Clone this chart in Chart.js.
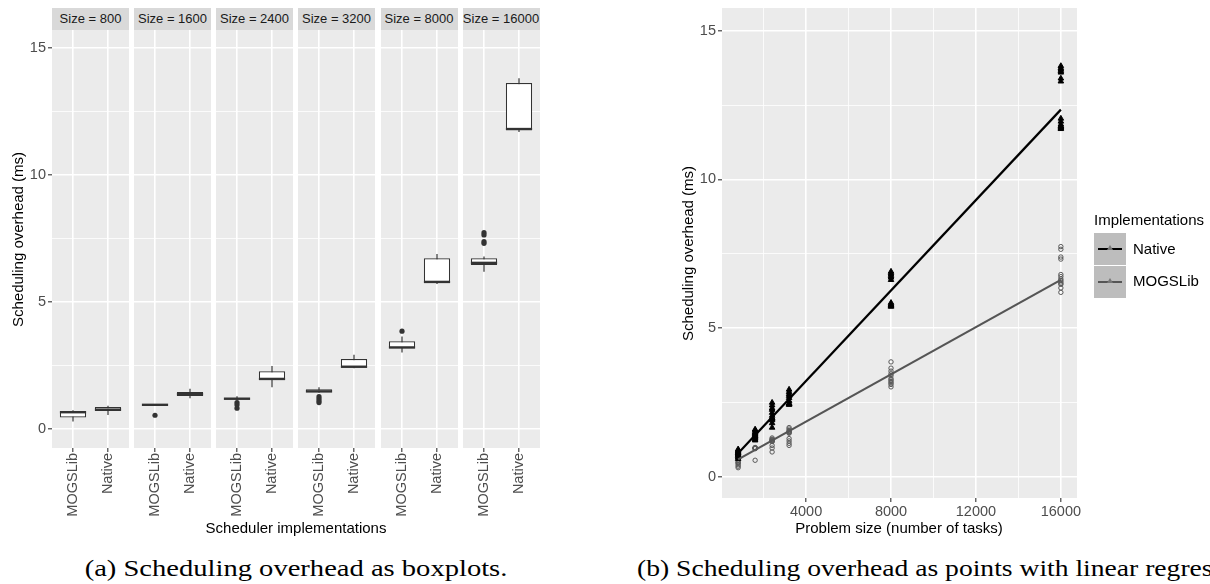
<!DOCTYPE html>
<html>
<head>
<meta charset="utf-8">
<title>Scheduling overhead</title>
<script src="https://cdn.jsdelivr.net/npm/chart.js@4.4.1/dist/chart.umd.min.js"></script>
<style>
  body { margin: 0; width: 1210px; height: 584px; overflow: hidden; background: #fff; position: relative;
         font-family: "Liberation Sans", Arial, sans-serif; }
  canvas { position: absolute; }
  .abs { position: absolute; white-space: nowrap; }
  .strip { position: absolute; top: 8px; height: 22px; line-height: 22px; background: #D9D9D9;
           color: #1A1A1A; font-size: 13px; text-align: center; }
  .title { font-size: 15px; color: #000; }
  .ytitle { position: absolute; display: flex; align-items: center; justify-content: center;
            writing-mode: vertical-rl; transform: rotate(180deg); font-size: 15px; color: #000; white-space: nowrap; }
  .caption { font-family: "Liberation Serif", "Times New Roman", serif; font-size: 24px; color: #000; }
  .key { position: absolute; width: 32px; height: 32px; background: #BDBDBD; }
  .key span { position: absolute; left: 4px; top: 15px; width: 24px; height: 2px; }
  .key i { position: absolute; left: 13px; top: 12px; width: 0; height: 0;
           border-left: 3px solid transparent; border-right: 3px solid transparent; border-bottom: 5px solid #777; }
</style>
</head>
<body>

<div id="left"></div>
<div class="ytitle" style="left:8px; top:30px; width:20px; height:418px;">Scheduling overhead (ms)</div>
<div class="abs title" style="left:296px; top:519px; transform:translateX(-50%);">Scheduler implementations</div>

<canvas id="scatterChart" width="417" height="530" style="left:690px; top:0px;"></canvas>
<div class="ytitle" style="left:678px; top:8px; width:20px; height:490px;">Scheduling overhead (ms)</div>
<div class="abs title" style="left:899px; top:519px; transform:translateX(-50%);">Problem size (number of tasks)</div>

<div class="abs title" style="left:1094px; top:211px;">Implementations</div>
<div class="key" style="left:1094px; top:233px;"><span style="background:#000"></span><i></i></div>
<div class="key" style="left:1094px; top:266px;"><span style="background:#555"></span><i></i></div>
<div class="abs title" style="left:1133px; top:240px;">Native</div>
<div class="abs title" style="left:1133px; top:272px;">MOGSLib</div>

<div class="abs caption" style="left:296px; top:555px; transform:translateX(-50%) scaleX(1.19);">(a) Scheduling overhead as boxplots.</div>
<div class="abs caption" style="left:637px; top:555px; transform-origin:0 0; transform:scaleX(1.15);">(b) Scheduling overhead as points with linear regression.</div>

<script>
  // problem sizes (one facet per size)
  const sizes = [800, 1600, 2400, 3200, 8000, 16000]
  const implLabels = ['MOGSLib', 'Native']

  // boxplot stats, panel (a)
  const mogsLow = [0.30, 0.94, 1.14, 1.44, 3.02, 6.20]
  const mogsQ1 = [0.46, 0.95, 1.18, 1.46, 3.19, 6.47]
  const mogsMed = [0.67, 0.96, 1.20, 1.49, 3.22, 6.55]
  const mogsQ3 = [0.70, 0.97, 1.24, 1.57, 3.46, 6.73]
  const mogsHigh = [0.75, 0.98, 1.30, 1.65, 3.65, 6.80]
  const mogsOutliers = [[], [0.55], [1.05, 0.96, 0.83], [1.28, 1.20, 1.12, 1.05], [3.86], [7.74, 7.65, 7.39, 7.32]]

  const nativeLow = [0.56, 1.22, 1.65, 2.40, 5.72, 11.70]
  const nativeQ1 = [0.72, 1.31, 1.94, 2.43, 5.77, 11.78]
  const nativeMed = [0.77, 1.38, 1.98, 2.46, 5.80, 11.82]
  const nativeQ3 = [0.87, 1.47, 2.28, 2.76, 6.73, 13.63]
  const nativeHigh = [0.92, 1.59, 2.49, 2.93, 6.90, 13.82]
  const nativeOutliers = [[], [], [], [], [], []]

  // raw points, panel (b)
  const nativePoints = [
    [0.92, 0.88, 0.85, 0.82, 0.80, 0.78, 0.75, 0.72, 0.70, 0.65, 0.60],
    [1.59, 1.55, 1.50, 1.47, 1.44, 1.41, 1.38, 1.36, 1.33, 1.30, 1.25, 1.22],
    [2.49, 2.40, 2.30, 2.25, 2.15, 2.05, 1.98, 1.96, 1.94, 1.90, 1.80, 1.65],
    [2.93, 2.85, 2.78, 2.72, 2.65, 2.55, 2.47, 2.45, 2.44, 2.43, 2.42],
    [6.90, 6.85, 6.80, 6.75, 6.70, 6.62, 5.85, 5.80, 5.78, 5.76, 5.74, 5.72],
    [13.82, 13.75, 13.70, 13.65, 13.60, 13.40, 13.30, 12.05, 11.95, 11.85, 11.80, 11.78, 11.75, 11.72, 11.70]
  ]
  const mogsPoints = [
    [0.75, 0.70, 0.68, 0.62, 0.55, 0.50, 0.47, 0.45, 0.40, 0.35, 0.30],
    [0.98, 0.97, 0.96, 0.96, 0.95, 0.95, 0.94, 0.55],
    [1.30, 1.26, 1.24, 1.22, 1.20, 1.19, 1.18, 1.05, 0.96, 0.83],
    [1.65, 1.60, 1.55, 1.52, 1.50, 1.48, 1.46, 1.28, 1.20, 1.12, 1.05],
    [3.86, 3.65, 3.55, 3.46, 3.40, 3.30, 3.25, 3.20, 3.15, 3.10, 3.02],
    [7.74, 7.65, 7.39, 7.32, 6.80, 6.73, 6.65, 6.60, 6.55, 6.50, 6.47, 6.35, 6.20]
  ]
  // regression line ends at size 800 and 16000
  const fitSizes = [800, 16000]
  const nativeFit = [0.79, 12.35]
  const mogsFit = [0.58, 6.62]

  // ticks
  const yMajor = [0, 5, 10, 15]
  const yMinor = [2.5, 7.5, 12.5]
  const xMajor = [4000, 8000, 12000, 16000]
  const xMinor = [2000, 6000, 10000, 14000]

  const tickFont = { family: 'Liberation Sans', size: 14.5 }
  const tickColor = '#4D4D4D'

  const panelBg = {
    id: 'panelBg',
    beforeDraw(chart) {
      const a = chart.chartArea
      chart.ctx.save()
      chart.ctx.fillStyle = '#EBEBEB'
      chart.ctx.fillRect(a.left, a.top, a.right - a.left, a.bottom - a.top)
      chart.ctx.restore()
    }
  }

  function noPad(axis) {
    axis.paddingLeft = 0
    axis.paddingRight = 0
    axis.paddingTop = 0
    axis.paddingBottom = 0
  }

  function yScale(min, max, showAxis, axisWidth) {
    const all = yMajor.concat(yMinor).sort((a, b) => a - b)
    return {
      type: 'linear',
      min: min,
      max: max,
      afterBuildTicks: (axis) => { axis.ticks = all.map(v => ({ value: v })) },
      afterFit: (axis) => { axis.width = showAxis ? axisWidth : 0; noPad(axis) },
      border: { display: false },
      grid: {
        color: '#FFFFFF',
        lineWidth: (c) => yMajor.includes(c.tick.value) ? 1.6 : 0.8,
        drawTicks: showAxis,
        tickLength: 4,
        tickWidth: 1.1,
        tickColor: (c) => yMajor.includes(c.tick.value) ? '#333333' : 'rgba(0,0,0,0)'
      },
      ticks: {
        display: showAxis,
        autoSkip: false,
        padding: 2,
        color: tickColor,
        font: tickFont,
        callback: (v) => yMajor.includes(v) ? String(v) : ''
      }
    }
  }

  // facets of panel (a)
  const facetLefts = [52, 134, 216, 298, 380.5, 462.5]
  const facetWidth = 77
  const leftDiv = document.getElementById('left')

  for (let i = 0; i < sizes.length; i++) {
    const strip = document.createElement('div')
    strip.className = 'strip'
    strip.style.left = facetLefts[i] + 'px'
    strip.style.width = facetWidth + 'px'
    strip.textContent = 'Size = ' + sizes[i]
    leftDiv.appendChild(strip)

    const first = i === 0
    const cv = document.createElement('canvas')
    const left = first ? 0 : facetLefts[i]
    cv.width = first ? facetLefts[0] + facetWidth : facetWidth
    cv.height = 498
    cv.style.left = left + 'px'
    cv.style.top = '30px'
    leftDiv.appendChild(cv)

    const outPts = []
    mogsOutliers[i].forEach(v => outPts.push({ x: 0, y: v }))
    nativeOutliers[i].forEach(v => outPts.push({ x: 1, y: v }))

    new Chart(cv, {
      type: 'bar',
      data: {
        datasets: [
          {
            label: 'whisker',
            data: [{ x: 0, y: [mogsLow[i], mogsHigh[i]] }, { x: 1, y: [nativeLow[i], nativeHigh[i]] }],
            backgroundColor: '#333333',
            maxBarThickness: 1.2,
            grouped: false,
            order: 3
          },
          {
            label: 'box',
            data: [{ x: 0, y: [mogsQ1[i], mogsQ3[i]] }, { x: 1, y: [nativeQ1[i], nativeQ3[i]] }],
            backgroundColor: '#FFFFFF',
            borderColor: '#333333',
            borderWidth: 1.2,
            borderSkipped: false,
            barPercentage: 0.75,
            categoryPercentage: 1,
            grouped: false,
            order: 2
          },
          {
            type: 'line',
            label: 'median',
            data: [{ x: 0, y: mogsMed[i] }, { x: 1, y: nativeMed[i] }],
            showLine: false,
            pointStyle: 'line',
            pointRadius: 13.1,
            pointBorderWidth: 2.4,
            borderColor: '#333333',
            order: 1
          },
          {
            type: 'line',
            label: 'outlier',
            data: outPts,
            showLine: false,
            pointRadius: 2.6,
            pointBackgroundColor: '#333333',
            pointBorderWidth: 0,
            order: 0
          }
        ]
      },
      options: {
        responsive: false,
        animation: false,
        layout: { padding: 0, autoPadding: false },
        plugins: { legend: { display: false }, tooltip: { enabled: false } },
        scales: {
          x: {
            type: 'linear',
            min: -0.6,
            max: 1.6,
            offset: false,
            afterBuildTicks: (axis) => { axis.ticks = [{ value: 0 }, { value: 1 }] },
            afterFit: (axis) => { axis.height = 80; noPad(axis) },
            border: { display: false },
            grid: { offset: false, color: '#FFFFFF', lineWidth: 1.6, tickLength: 4, tickWidth: 1.1, tickColor: '#333333' },
            ticks: {
              autoSkip: false,
              minRotation: 90,
              maxRotation: 90,
              padding: 1,
              color: tickColor,
              font: tickFont,
              callback: (v) => implLabels[v]
            }
          },
          y: yScale(-0.74, 15.72, first, 52)
        }
      },
      plugins: [panelBg]
    })
  }

  // panel (b)
  const nativeData = []
  const mogsData = []
  for (let i = 0; i < sizes.length; i++) {
    nativePoints[i].forEach(v => nativeData.push({ x: sizes[i], y: v }))
    mogsPoints[i].forEach(v => mogsData.push({ x: sizes[i], y: v }))
  }
  const xAll = xMajor.concat(xMinor).sort((a, b) => a - b)

  new Chart(document.getElementById('scatterChart'), {
    type: 'scatter',
    data: {
      datasets: [
        {
          type: 'line',
          label: 'Native fit',
          data: fitSizes.map((s, k) => ({ x: s, y: nativeFit[k] })),
          borderColor: '#000000',
          borderWidth: 2.2,
          pointRadius: 0,
          showLine: true,
          order: 0
        },
        {
          type: 'line',
          label: 'MOGSLib fit',
          data: fitSizes.map((s, k) => ({ x: s, y: mogsFit[k] })),
          borderColor: '#555555',
          borderWidth: 2.2,
          pointRadius: 0,
          showLine: true,
          order: 0
        },
        {
          label: 'Native',
          data: nativeData,
          pointStyle: 'triangle',
          pointRadius: 3.2,
          backgroundColor: '#000000',
          borderColor: '#000000',
          borderWidth: 1,
          order: 1
        },
        {
          label: 'MOGSLib',
          data: mogsData,
          pointStyle: 'circle',
          pointRadius: 2.2,
          backgroundColor: 'rgba(0,0,0,0)',
          borderColor: '#595959',
          borderWidth: 1,
          order: 2
        }
      ]
    },
    options: {
      responsive: false,
      animation: false,
      layout: { padding: { top: 8, right: 30, left: 0, bottom: 0 }, autoPadding: false },
      plugins: { legend: { display: false }, tooltip: { enabled: false } },
      scales: {
        x: {
          type: 'linear',
          min: 40,
          max: 16760,
          afterBuildTicks: (axis) => { axis.ticks = xAll.map(v => ({ value: v })) },
          afterFit: (axis) => { axis.height = 32; noPad(axis) },
          border: { display: false },
          grid: {
            color: '#FFFFFF',
            lineWidth: (c) => xMajor.includes(c.tick.value) ? 1.6 : 0.8,
            tickLength: 4,
            tickWidth: 1.1,
            tickColor: (c) => xMajor.includes(c.tick.value) ? '#333333' : 'rgba(0,0,0,0)'
          },
          ticks: {
            autoSkip: false,
            maxRotation: 0,
            padding: 1,
            color: tickColor,
            font: tickFont,
            callback: (v) => xMajor.includes(v) ? String(v) : ''
          }
        },
        y: yScale(-0.72, 15.77, true, 32)
      }
    },
    plugins: [panelBg]
  })
</script>
</body>
</html>
